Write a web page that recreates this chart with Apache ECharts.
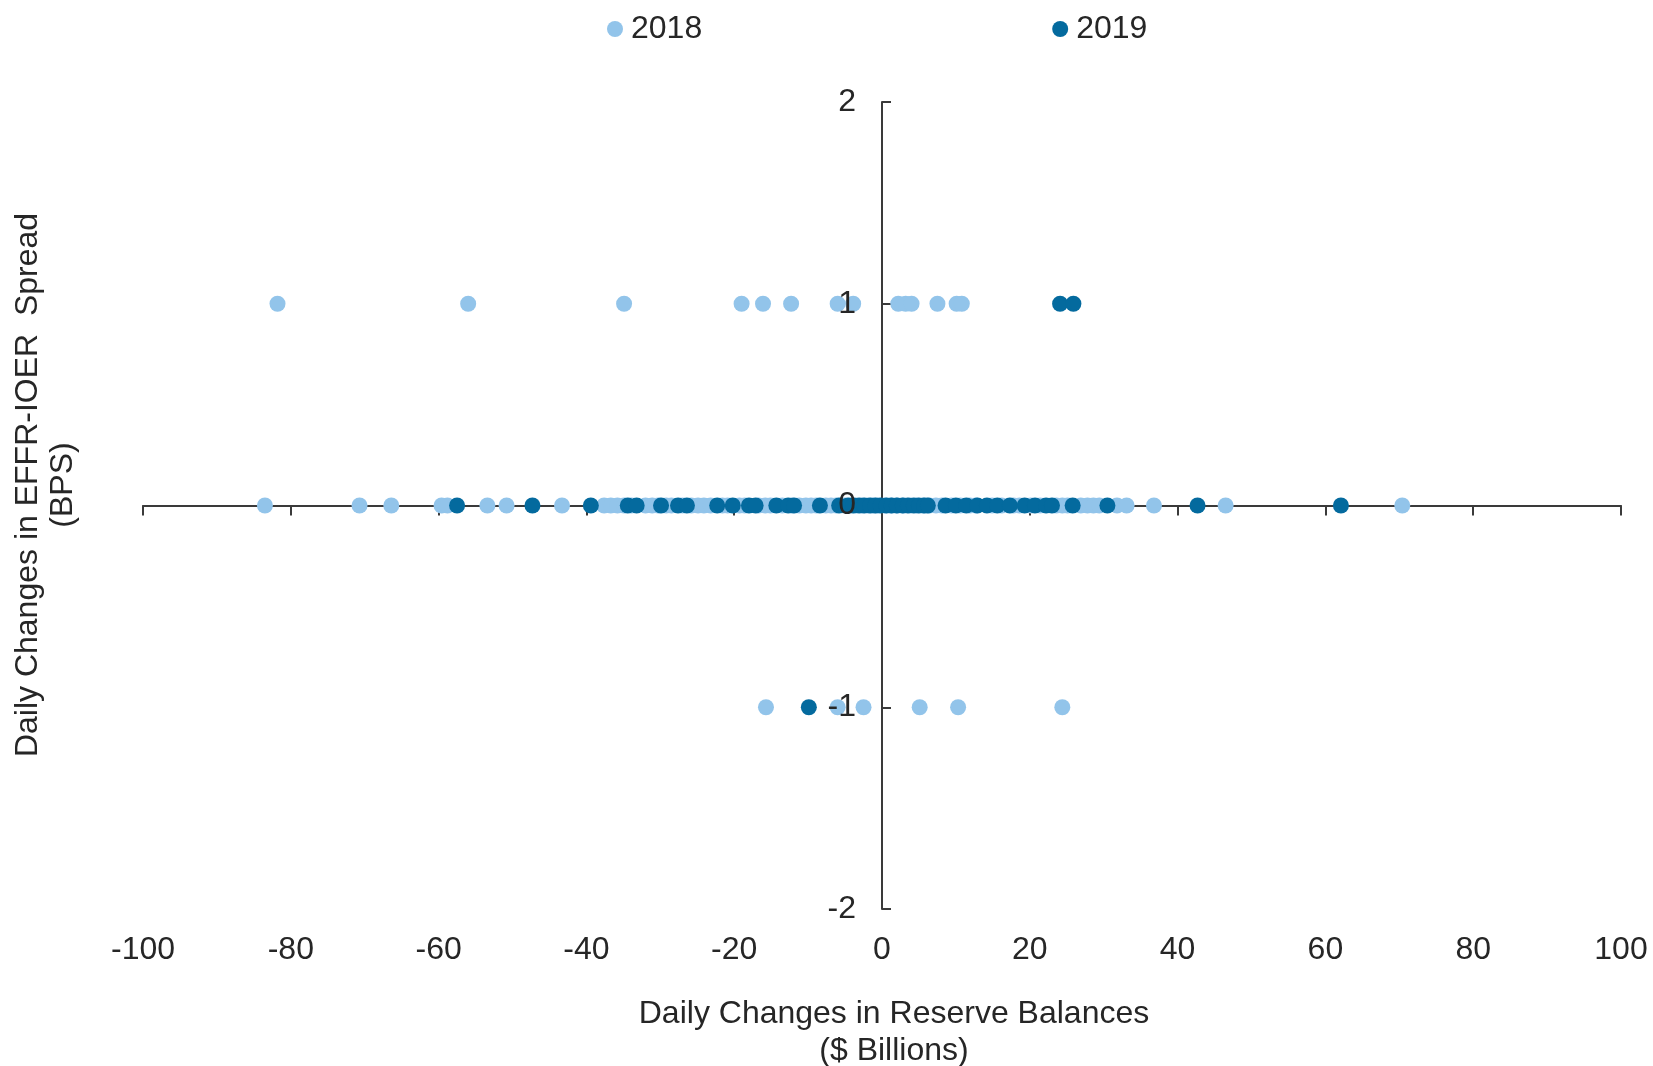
<!DOCTYPE html>
<html>
<head>
<meta charset="utf-8">
<title>EFFR-IOER spread vs reserve balances</title>
<script src="https://cdn.jsdelivr.net/npm/echarts@6/dist/echarts.min.js"></script>
<style>
  html, body { margin: 0; padding: 0; background: #fff; }
  #chart { width: 1653px; height: 1066px; }
</style>
</head>
<body>
<div id="chart"></div>
<script>
  // daily change in reserve balances ($bn), grouped by the spread change (bps) they go with
  var years = ["2018", "2019"];
  var xTicks = [-100, -80, -60, -40, -20, 0, 20, 40, 60, 80, 100];
  var yTicks = [-2, -1, 0, 1, 2];

  var reserves2018Up = [-81.8, -56.0, -34.9, -19.0, -16.1, -12.3, -6.0, -3.9, 2.2, 3.2, 4.0, 7.5, 10.1, 10.8];
  var reserves2018Flat = [-83.5, -70.7, -66.4, -59.6, -58.8, -53.4, -50.8, -43.3, -37.6, -36.7, -35.8,
    -34.9, -33.9, -32.0, -31.1, -30.3, -29.2, -28.5, -27.0, -25.8, -24.9, -24.1, -23.2, -21.6, -20.9,
    -19.3, -18.6, -16.7, -15.8, -15.1, -13.5, -12.2, -11.2, -10.3, -9.6, -8.9, -7.6, -6.9, -6.2, -5.1,
    -4.3, -3.6, -2.7, -1.9, -1.2, -0.6, 0.4, 1.2, 2.1, 2.9, 3.8, 4.7, 5.6, 6.4, 7.3, 8.1, 9.4, 10.6,
    11.9, 12.7, 14.9, 16.2, 17.8, 18.6, 20.1, 21.4, 23.6, 24.4, 25.1, 26.9, 27.8, 28.6, 29.4, 31.8,
    33.1, 36.8, 46.5, 70.4];
  var reserves2018Down = [-15.7, -6.0, -2.5, 5.1, 10.3, 24.4];

  var reserves2019Up = [24.1, 25.9];
  var reserves2019Flat = [-57.5, -47.3, -39.4, -34.4, -33.2, -29.9, -27.6, -26.4, -22.3, -20.2, -18.0,
    -17.1, -14.3, -12.7, -11.9, -8.4, -5.8, -4.6, -3.9, -3.1, -2.4, -1.6, -0.9, -0.2, 0.6, 1.3, 2.0,
    2.8, 3.5, 4.3, 5.0, 5.7, 6.2, 8.6, 10.0, 11.4, 12.9, 14.2, 15.6, 17.3, 19.3, 20.7, 22.2, 23.0,
    25.8, 30.5, 42.7, 62.1];
  var reserves2019Down = [-9.9];

  function pairs(xs, y) {
    return xs.map(function (x) { return [x, y]; });
  }
  var data2018 = pairs(reserves2018Up, 1).concat(pairs(reserves2018Flat, 0), pairs(reserves2018Down, -1));
  var data2019 = pairs(reserves2019Up, 1).concat(pairs(reserves2019Flat, 0), pairs(reserves2019Down, -1));

  var font = "'Liberation Sans', Arial, sans-serif";
  var ink = "#262626";
  var lineColor = "#3a3a3a";

  var gridLeft = 143, gridRight = 32;
  // distance from grid left edge to x = 0, so the y labels sit by the crossing axis
  var zeroOffset = (1653 - gridLeft - gridRight) * (0 - xTicks[0]) / (xTicks[xTicks.length - 1] - xTicks[0]);

  var myChart = echarts.init(document.getElementById("chart"));
  var option = {
    animation: false,
    textStyle: { fontFamily: font },
    legend: {
      data: years,
      icon: "circle",
      itemWidth: 16,
      itemHeight: 16,
      itemGap: 350,
      left: 602,
      top: 8,
      textStyle: { fontSize: 32, color: ink, fontFamily: font, padding: [0, 0, 0, 3] }
    },
    grid: { left: gridLeft, right: gridRight, top: 102, bottom: 157 },
    xAxis: [
      {
        type: "value",
        min: xTicks[0],
        max: xTicks[xTicks.length - 1],
        interval: 20,
        axisLine: { onZero: true, lineStyle: { color: lineColor, width: 2 } },
        axisTick: { show: true, length: 10, lineStyle: { color: lineColor, width: 2 } },
        axisLabel: { show: false },
        splitLine: { show: false }
      },
      {
        type: "value",
        position: "bottom",
        min: xTicks[0],
        max: xTicks[xTicks.length - 1],
        interval: 20,
        axisLine: { show: false, onZero: false },
        axisTick: { show: false },
        axisLabel: { show: true, fontSize: 32, color: ink, margin: 25, fontFamily: font },
        splitLine: { show: false }
      }
    ],
    yAxis: [
      {
        type: "value",
        min: yTicks[0],
        max: yTicks[yTicks.length - 1],
        interval: 1,
        axisLine: { show: true, onZero: true, lineStyle: { color: lineColor, width: 2 } },
        axisTick: { show: true, inside: true, length: 9, lineStyle: { color: lineColor, width: 2 } },
        axisLabel: { show: false },
        splitLine: { show: false }
      },
      {
        type: "value",
        position: "left",
        offset: -zeroOffset,
        min: yTicks[0],
        max: yTicks[yTicks.length - 1],
        interval: 1,
        z: 10,
        axisLine: { show: false, onZero: false },
        axisTick: { show: false },
        axisLabel: { fontSize: 32, color: ink, margin: 26, fontFamily: font },
        splitLine: { show: false }
      }
    ],
    graphic: [
      {
        type: "text",
        x: 46,
        y: 485,
        rotation: Math.PI / 2,
        style: {
          text: "Daily Changes in EFFR-IOER  Spread\n(BPS)",
          font: "32px " + font,
          fill: ink,
          align: "center",
          verticalAlign: "middle",
          lineHeight: 35
        }
      },
      {
        type: "text",
        x: 894,
        y: 1033,
        style: {
          text: "Daily Changes in Reserve Balances\n($ Billions)",
          font: "32px " + font,
          fill: ink,
          align: "center",
          verticalAlign: "middle",
          lineHeight: 37
        }
      }
    ],
    series: [
      {
        name: "2018",
        type: "scatter",
        symbolSize: 16,
        itemStyle: { color: "#92c4ea", opacity: 1 },
        data: data2018,
        z: 2
      },
      {
        name: "2019",
        type: "scatter",
        symbolSize: 16,
        itemStyle: { color: "#046a9e", opacity: 1 },
        data: data2019,
        z: 3
      }
    ]
  };
  option && myChart.setOption(option);
</script>
</body>
</html>
